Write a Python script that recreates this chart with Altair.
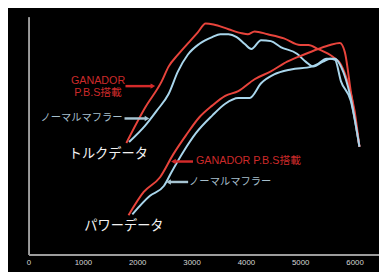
import altair as alt
import pandas as pd

# ---- data (rpm, relative level 0-100) ----
torque_pbs_rpm = [1800, 2144, 2450, 2577, 2750, 2955, 3115, 3260, 3405, 3680, 3925, 4035, 4160, 4400, 4700, 5000, 5150, 5330, 5600, 5750, 5870, 6000, 6090]
torque_pbs_val = [46.9, 61.7, 72.8, 79.0, 84.0, 89.3, 93.4, 97.1, 96.7, 94.7, 93.0, 92.6, 93.8, 92.6, 90.9, 88.1, 88.1, 86.4, 83.1, 79.8, 72.8, 60.5, 45.3]

torque_std_rpm = [1850, 2150, 2360, 2577, 2750, 2930, 3140, 3380, 3530, 3680, 3830, 3980, 4100, 4280, 4460, 4640, 4940, 5100, 5240, 5420, 5550, 5640, 5750, 5930, 6090]
torque_std_val = [47.3, 54.3, 60.5, 67.5, 77.0, 84.0, 88.5, 91.4, 92.6, 92.6, 91.4, 88.5, 86.4, 90.1, 89.7, 87.2, 84.4, 81.1, 79.0, 81.1, 82.3, 81.9, 72.8, 64.6, 45.3]

power_pbs_rpm = [1840, 2120, 2420, 2660, 2900, 3140, 3380, 3620, 3860, 4160, 4460, 4760, 5060, 5330, 5550, 5730, 5820, 5930, 6090]
power_pbs_val = [16.5, 26.3, 32.5, 42.0, 50.2, 57.6, 62.6, 66.7, 68.7, 73.7, 77.0, 81.1, 84.0, 86.4, 88.1, 88.9, 85.2, 68.7, 45.3]

power_std_rpm = [1910, 2235, 2490, 2630, 2850, 3080, 3380, 3620, 3860, 4070, 4280, 4520, 4830, 5210, 5330, 5480, 5640, 5750, 5930, 6090]
power_std_val = [16.9, 24.7, 28.8, 34.6, 43.2, 51.0, 58.4, 63.4, 65.8, 65.8, 72.0, 75.7, 77.8, 79.0, 80.2, 82.3, 82.3, 79.0, 65.8, 45.3]

x_ticks = [0, 1000, 2000, 3000, 4000, 5000, 6000]

# annotation texts and anchor positions (rpm, level)
label_text = ["GANADOR", "P.B.S搭載", "ノーマルマフラー", "トルクデータ", "GANADOR P.B.S搭載", "ノーマルマフラー", "パワーデータ"]
label_rpm = [1279, 1279, 1730, 739, 3081, 2955, 1027]
label_val = [72.8, 67.9, 57.2, 42.4, 39.1, 30.5, 11.9]
label_kind = ["red", "red", "blue", "white", "red", "blue", "white"]
label_align = ["center", "center", "right", "left", "left", "left", "left"]

arrow_from = [1784, 1766, 3027, 2937]
arrow_to = [2288, 2180, 2667, 2577]
arrow_val = [70.8, 57.2, 39.1, 30.5]
arrow_kind = ["red", "blue", "red", "blue"]

RED_LINE = "#e8443c"
BLUE_LINE = "#a9d6ec"
TEXT_COLORS = {"red": "#cc2a2a", "blue": "#a6bfcc", "white": "#f2f2f2"}
ARROW_COLORS = {"red": "#d42a2a", "blue": "#a6c4d2"}
SIZES = {"red": 11, "blue": 10.5, "white": 13.5}

rows = []
for name, rs, vs in [("t_pbs", torque_pbs_rpm, torque_pbs_val),
                     ("t_std", torque_std_rpm, torque_std_val),
                     ("p_pbs", power_pbs_rpm, power_pbs_val),
                     ("p_std", power_std_rpm, power_std_val)]:
    for i, (r, v) in enumerate(zip(rs, vs)):
        rows.append({"curve": name, "kind": "pbs" if "pbs" in name else "std", "rpm": r, "val": v, "o": i})
curves = pd.DataFrame(rows)

xs = alt.Scale(domain=[0, 6450], nice=False, zero=False)
ys = alt.Scale(domain=[0, 100], nice=False)

base_x = alt.X("rpm:Q", scale=xs,
               axis=alt.Axis(values=x_ticks, format="d", title=None, grid=False, ticks=False,
                             domainColor="#9c9c9c", domainWidth=2, labelColor="#d6d6d6",
                             labelFont="Liberation Sans", labelFontSize=8, labelPadding=4,
                             labelFlush=False))
base_y = alt.Y("val:Q", scale=ys,
               axis=alt.Axis(title=None, grid=False, ticks=False, labels=False,
                             domainColor="#9c9c9c", domainWidth=2))

lines = alt.Chart(curves).mark_line(strokeWidth=2, interpolate="monotone").encode(
    x=base_x, y=base_y,
    color=alt.Color("kind:N", scale=alt.Scale(domain=["pbs", "std"], range=[RED_LINE, BLUE_LINE]), legend=None),
    detail="curve:N", order="o:Q")

labels = pd.DataFrame({"t": label_text, "rpm": label_rpm, "val": label_val, "k": label_kind, "a": label_align})

text_layers = []
for al in ["center", "left", "right"]:
    for k in ["red", "blue", "white"]:
        sub = labels[(labels["a"] == al) & (labels["k"] == k)]
        if len(sub) == 0:
            continue
        text_layers.append(
            alt.Chart(sub).mark_text(align=al, baseline="middle", fontSize=SIZES[k],
                                     color=TEXT_COLORS[k],
                                     font="Liberation Sans, Noto Sans CJK JP").encode(
                x=alt.X("rpm:Q", scale=xs), y=alt.Y("val:Q", scale=ys), text="t:N"))

arrows = pd.DataFrame({"x1": arrow_from, "x2": arrow_to, "val": arrow_val, "k": arrow_kind,
                       "shape": ["triangle-right", "triangle-right", "triangle-left", "triangle-left"]})
arrow_layers = []
for k in ["red", "blue"]:
    sub = arrows[arrows["k"] == k]
    arrow_layers.append(alt.Chart(sub).mark_rule(strokeWidth=2.5, color=ARROW_COLORS[k]).encode(
        x=alt.X("x1:Q", scale=xs), x2="x2:Q", y=alt.Y("val:Q", scale=ys)))
    arrow_layers.append(alt.Chart(sub).mark_point(filled=True, size=30, opacity=1, color=ARROW_COLORS[k]).encode(
        x=alt.X("x2:Q", scale=xs), y=alt.Y("val:Q", scale=ys),
        shape=alt.Shape("shape:N", scale=None)))

chart = alt.layer(lines, *arrow_layers, *text_layers).properties(
    width=358, height=243, background="black",
    autosize=alt.AutoSizeParams(type="none"),
    padding={"left": 21, "top": 6, "right": 0, "bottom": 15},
).configure_view(stroke=None, fill="black")

chart.save("out.html", embed_options={"renderer": "svg", "actions": False})
